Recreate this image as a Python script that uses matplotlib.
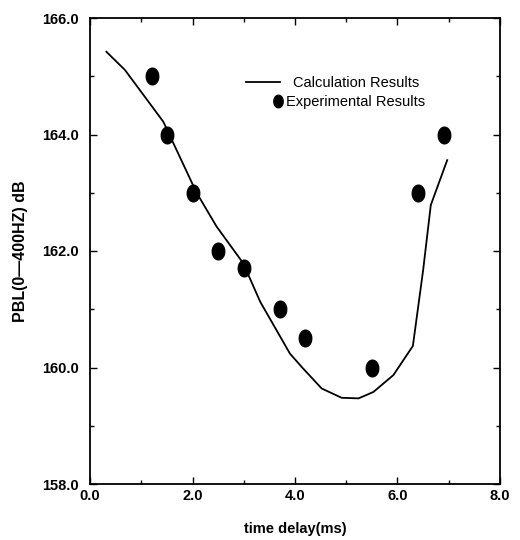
import matplotlib
matplotlib.use("Agg")
import matplotlib.pyplot as plt
from matplotlib.lines import Line2D
from matplotlib.path import Path
import numpy as np

plt.rcParams['font.family'] = ['Liberation Sans Narrow', 'Liberation Sans', 'DejaVu Sans']

# Calculation results (line)
calc_x = [0.32, 0.68, 1.43, 2.08, 2.47, 2.99, 3.32, 3.90, 4.13, 4.52, 4.91, 5.24, 5.53, 5.92, 6.30, 6.50, 6.65, 6.97]
calc_y = [165.42, 165.11, 164.22, 163.0, 162.42, 161.79, 161.13, 160.24, 160.01, 159.64, 159.48, 159.47, 159.58, 159.87, 160.37, 161.67, 162.79, 163.56]

# Experimental results (dots)
exp_x = [1.2, 1.5, 2.0, 2.5, 3.0, 3.7, 4.2, 5.5, 6.4, 6.9]
exp_y = [165.0, 164.0, 163.0, 162.0, 161.7, 161.0, 160.5, 160.0, 163.0, 164.0]

xticks = [0.0, 2.0, 4.0, 6.0, 8.0]
yticks = [158.0, 160.0, 162.0, 164.0, 166.0]

# elliptical marker (taller than wide)
t = np.linspace(0, 2 * np.pi, 40)
ell = Path(np.column_stack([0.75 * np.cos(t), np.sin(t)]))

fig = plt.figure(figsize=(5.2, 5.4), dpi=100)
ax = fig.add_axes([90 / 520, 1 - 484 / 540, 410 / 520, 466 / 540])

ax.plot(calc_x, calc_y, color='black', lw=1.3)
ax.plot(exp_x, exp_y, linestyle='none', marker=ell, markersize=12,
        color='black')

ax.set_xlim(0, 8)
ax.set_ylim(158, 166)
ax.set_xticks(xticks)
ax.set_yticks(yticks)
ax.set_xticks([1, 3, 5, 7], minor=True)
ax.set_yticks([159, 161, 163, 165], minor=True)
ax.set_xticklabels([f"{v:.1f}" for v in xticks])
ax.set_yticklabels([f"{v:.1f}" for v in yticks])
ax.tick_params(which='both', direction='in', top=True, right=True,
               labelsize=10.5, width=1.0)
ax.tick_params(which='major', length=5)
ax.tick_params(which='minor', length=3)
ax.tick_params(axis='y', pad=8)
for lab in ax.get_xticklabels() + ax.get_yticklabels():
    lab.set_fontweight('bold')
for s in ax.spines.values():
    s.set_linewidth(1.3)

ax.set_xlabel('time delay(ms)', fontsize=10.5, fontweight='bold', labelpad=14)
ax.set_ylabel('PBL(0—400HZ) dB', fontsize=11.5, fontweight='bold', labelpad=10)

h1 = Line2D([], [], color='black', lw=1.3)
h2 = Line2D([], [], color='black', linestyle='none', marker=ell, markersize=9)
leg1 = ax.legend([h1], ['Calculation Results'], frameon=False,
                 loc='upper left', bbox_to_anchor=((246 - 90) / 410, 1 - (76 - 18) / 466),
                 handlelength=2.3, handletextpad=0.9, fontsize=10.5,
                 borderpad=0, borderaxespad=0)
ax.add_artist(leg1)
ax.legend([h2], ['Experimental Results'], frameon=False,
          loc='upper left', bbox_to_anchor=((274 - 90) / 410, 1 - (95 - 18) / 466),
          handlelength=0.6, handletextpad=0.2, fontsize=10.5,
          borderpad=0, borderaxespad=0)

fig.savefig('out.png', dpi=100)
